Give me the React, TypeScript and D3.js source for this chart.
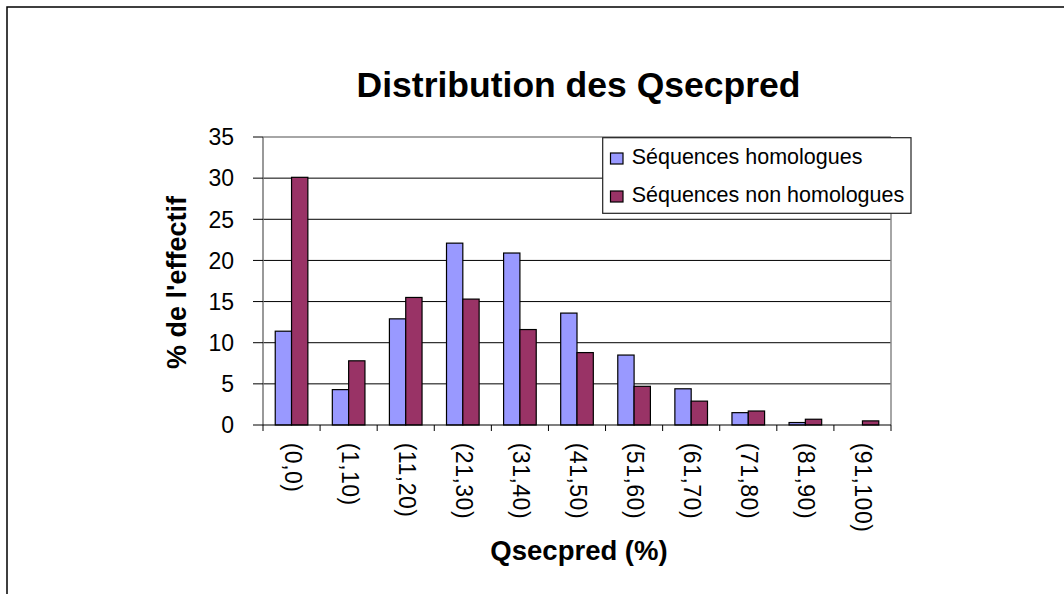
import React from "react";
import * as d3 from "d3";

const categories = ["(0,0)", "(1,10)", "(11,20)", "(21,30)", "(31,40)", "(41,50)", "(51,60)", "(61,70)", "(71,80)", "(81,90)", "(91,100)"];
const homologues = [11.4, 4.3, 12.9, 22.1, 20.9, 13.6, 8.5, 4.4, 1.5, 0.3, 0];
const nonHomologues = [30.1, 7.8, 15.5, 15.3, 11.6, 8.8, 4.7, 2.9, 1.7, 0.7, 0.5];
const seriesNames = ["Séquences homologues", "Séquences non homologues"];
const seriesColors = ["#9999FF", "#993366"];
const yTicks = [0, 5, 10, 15, 20, 25, 30, 35];

const FONT = "'Liberation Sans', Arial, Helvetica, sans-serif";

export default function App() {
  const W = 1064, H = 594;
  const left = 263, right = 891, top = 137, bottom = 425;
  const x = d3.scaleBand<string>().domain(categories).range([left, right]).paddingInner(0).paddingOuter(0);
  const y = d3.scaleLinear().domain([0, 35]).range([bottom, top]);
  const bw = x.bandwidth();
  const barW = bw / 3.5;
  const series = [homologues, nonHomologues];

  return (
    <svg width={W} height={H} style={{ position: "absolute", left: 0, top: 0, background: "#fff" }} fontFamily={FONT}>
      <rect x={0} y={0} width={W} height={H} fill="#fff" />
      <rect x={7} y={7} width={1200} height={800} fill="none" stroke="#000" strokeWidth={1.5} />
      <text x={578.5} y={96.5} textAnchor="middle" fontSize={35.5} fontWeight="bold">Distribution des Qsecpred</text>

      {/* gridlines */}
      {yTicks.filter(t => t > 0 && t < 35).map(t => (
        <line key={t} x1={left} x2={right} y1={y(t)} y2={y(t)} stroke="#000" strokeWidth={1} />
      ))}
      {/* plot border */}
      <line x1={left} x2={right} y1={top} y2={top} stroke="#888" strokeWidth={1.5} />
      <line x1={right} x2={right} y1={top} y2={bottom} stroke="#888" strokeWidth={1.5} />
      <line x1={left} x2={left} y1={top} y2={bottom} stroke="#777" strokeWidth={1.5} />

      {/* bars */}
      {categories.map((c, i) => (
        <g key={c}>
          {series.map((s, j) => {
            const bx = (x(c) as number) + 0.75 * barW + j * barW;
            const h = bottom - y(s[i]);
            if (s[i] <= 0) return null;
            return <rect key={j} x={bx} y={y(s[i])} width={barW} height={h} fill={seriesColors[j]} stroke="#000" strokeWidth={1.2} />;
          })}
        </g>
      ))}

      {/* x axis */}
      <line x1={left} x2={right} y1={bottom} y2={bottom} stroke="#000" strokeWidth={1.2} />
      {d3.range(categories.length + 1).map(i => {
        const tx = left + i * bw;
        return <line key={i} x1={tx} x2={tx} y1={bottom} y2={bottom + 6} stroke="#000" strokeWidth={1} />;
      })}
      {categories.map(c => {
        const cx = (x(c) as number) + bw / 2 - 7;
        return (
          <text key={c} transform={`translate(${cx},442.7) rotate(90)`} fontSize={23} textAnchor="start" letterSpacing={0.5}>{c}</text>
        );
      })}

      {/* y axis ticks */}
      {yTicks.map(t => (
        <g key={t}>
          <line x1={253} x2={left} y1={y(t)} y2={y(t)} stroke="#000" strokeWidth={1} />
          <text x={234} y={y(t) + 8.3} textAnchor="end" fontSize={23}>{t}</text>
        </g>
      ))}

      <text transform="translate(186,282.5) rotate(-90)" textAnchor="middle" fontSize={27} fontWeight="bold">% de l'effectif</text>
      <text x={579} y={560} textAnchor="middle" fontSize={27.5} fontWeight="bold">Qsecpred (%)</text>

      {/* legend */}
      <rect x={602.7} y={137.7} width={308.3} height={75.6} fill="#fff" stroke="#222" strokeWidth={1.2} />
      {seriesNames.map((n, j) => (
        <g key={n}>
          <rect x={610.5} y={153 + j * 38} width={12.5} height={11} fill={seriesColors[j]} stroke="#000" strokeWidth={1.2} />
          <text x={631.7} y={163.5 + j * 38} fontSize={21.5}>{n}</text>
        </g>
      ))}
    </svg>
  );
}
